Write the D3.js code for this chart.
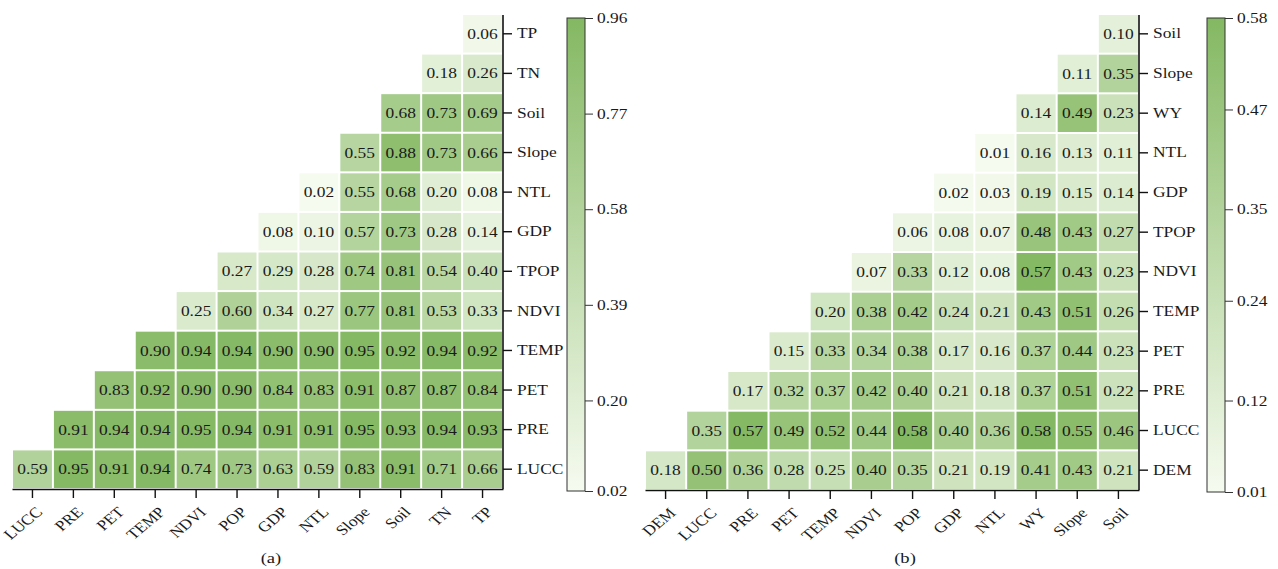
<!DOCTYPE html>
<html>
<head>
<meta charset="utf-8">
<script src="https://cdn.jsdelivr.net/npm/d3@7"></script>
<style>
  body { margin: 0; background: #fff; }
</style>
</head>
<body>
<div id="chart"></div>
<script>
// panel (a)
const colsA = ["LUCC", "PRE", "PET", "TEMP", "NDVI", "POP", "GDP", "NTL", "Slope", "Soil", "TN", "TP"];
const rowsA = ["LUCC", "PRE", "PET", "TEMP", "NDVI", "TPOP", "GDP", "NTL", "Slope", "Soil", "TN", "TP"]; // bottom -> top
// row i starts at column i
const valsA = [
  [0.59, 0.95, 0.91, 0.94, 0.74, 0.73, 0.63, 0.59, 0.83, 0.91, 0.71, 0.66],
  [0.91, 0.94, 0.94, 0.95, 0.94, 0.91, 0.91, 0.95, 0.93, 0.94, 0.93],
  [0.83, 0.92, 0.90, 0.90, 0.84, 0.83, 0.91, 0.87, 0.87, 0.84],
  [0.90, 0.94, 0.94, 0.90, 0.90, 0.95, 0.92, 0.94, 0.92],
  [0.25, 0.60, 0.34, 0.27, 0.77, 0.81, 0.53, 0.33],
  [0.27, 0.29, 0.28, 0.74, 0.81, 0.54, 0.40],
  [0.08, 0.10, 0.57, 0.73, 0.28, 0.14],
  [0.02, 0.55, 0.68, 0.20, 0.08],
  [0.55, 0.88, 0.73, 0.66],
  [0.68, 0.73, 0.69],
  [0.18, 0.26],
  [0.06]
];
const ticksA = [0.02, 0.20, 0.39, 0.58, 0.77, 0.96];

// panel (b)
const colsB = ["DEM", "LUCC", "PRE", "PET", "TEMP", "NDVI", "POP", "GDP", "NTL", "WY", "Slope", "Soil"];
const rowsB = ["DEM", "LUCC", "PRE", "PET", "TEMP", "NDVI", "TPOP", "GDP", "NTL", "WY", "Slope", "Soil"];
const valsB = [
  [0.18, 0.50, 0.36, 0.28, 0.25, 0.40, 0.35, 0.21, 0.19, 0.41, 0.43, 0.21],
  [0.35, 0.57, 0.49, 0.52, 0.44, 0.58, 0.40, 0.36, 0.58, 0.55, 0.46],
  [0.17, 0.32, 0.37, 0.42, 0.40, 0.21, 0.18, 0.37, 0.51, 0.22],
  [0.15, 0.33, 0.34, 0.38, 0.17, 0.16, 0.37, 0.44, 0.23],
  [0.20, 0.38, 0.42, 0.24, 0.21, 0.43, 0.51, 0.26],
  [0.07, 0.33, 0.12, 0.08, 0.57, 0.43, 0.23],
  [0.06, 0.08, 0.07, 0.48, 0.43, 0.27],
  [0.02, 0.03, 0.19, 0.15, 0.14],
  [0.01, 0.16, 0.13, 0.11],
  [0.14, 0.49, 0.23],
  [0.11, 0.35],
  [0.10]
];
const ticksB = [0.01, 0.12, 0.24, 0.35, 0.47, 0.58];

const width = 1278, height = 569;
const lowColor = "#f6fbf0", highColor = "#84b862";
const serif = "'Liberation Serif', 'Times New Roman', serif";
const fs = 14.5;      // font size
const sx = 1.2;       // the figure is stretched horizontally, so is its text
const ink = "#1a1a1a";

const svg = d3.select("#chart").append("svg")
  .attr("width", width)
  .attr("height", height)
  .attr("font-family", serif);

const drawPanel = function (o) {
  const g = svg.append("g");

  const x = d3.scaleBand().domain(o.cols).range([o.left, o.right]);
  const y = d3.scaleBand().domain(o.rows).range([o.bottom, o.top]);
  const [vmin, vmax] = d3.extent(o.ticks);
  const color = d3.scaleLinear().domain([vmin, vmax]).range([lowColor, highColor]).clamp(true);

  const cells = [];
  o.vals.forEach((row, i) => {
    row.forEach((v, k) => cells.push({ r: o.rows[i], c: o.cols[i + k], v: v }));
  });

  g.selectAll("rect.cell")
    .data(cells)
    .join("rect")
    .attr("class", "cell")
    .attr("x", d => x(d.c) + 1)
    .attr("y", d => y(d.r) + 1)
    .attr("width", x.bandwidth() - 2)
    .attr("height", y.bandwidth() - 2)
    .attr("fill", d => color(d.v));

  g.selectAll("text.val")
    .data(cells)
    .join("text")
    .attr("class", "val")
    .attr("transform", d => `translate(${x(d.c) + x.bandwidth() / 2},${y(d.r) + y.bandwidth() / 2}) scale(${sx},1)`)
    .attr("dy", "0.35em")
    .attr("text-anchor", "middle")
    .attr("font-size", fs)
    .attr("fill", ink)
    .text(d => d.v.toFixed(2));

  // x axis
  const xAxis = g.append("g")
    .attr("transform", `translate(0,${o.bottom})`)
    .call(d3.axisBottom(x).tickSize(9).tickSizeOuter(0))
    .attr("font-family", serif);
  xAxis.select(".domain").attr("stroke", "#111").attr("stroke-width", 1.6);
  xAxis.selectAll(".tick line").attr("stroke", "#111").attr("stroke-width", 1.4);
  xAxis.selectAll(".tick text")
    .attr("font-size", fs)
    .attr("fill", ink)
    .attr("text-anchor", "end")
    .attr("dy", null)
    .attr("y", null)
    .attr("transform", `translate(11,24) scale(${sx},1) rotate(-45)`);

  // y axis on right
  const yAxis = g.append("g")
    .attr("transform", `translate(${o.right},0)`)
    .call(d3.axisRight(y).tickSize(9).tickSizeOuter(0))
    .attr("font-family", serif);
  yAxis.select(".domain").attr("stroke", "#111").attr("stroke-width", 1.6)
    .attr("d", `M0,${o.top + 1}V${o.bottom}`);
  yAxis.selectAll(".tick line").attr("stroke", "#111").attr("stroke-width", 1.4);
  yAxis.selectAll(".tick text")
    .attr("font-size", fs)
    .attr("fill", ink)
    .attr("x", 0)
    .attr("transform", `translate(14,0) scale(${sx},1)`);

  // colour bar
  const cb = o.cb;
  const gradId = "grad" + o.id;
  const grad = svg.append("defs").append("linearGradient")
    .attr("id", gradId)
    .attr("x1", 0).attr("y1", 1).attr("x2", 0).attr("y2", 0);
  grad.append("stop").attr("offset", 0).attr("stop-color", lowColor);
  grad.append("stop").attr("offset", 1).attr("stop-color", highColor);

  const cy = d3.scaleLinear().domain([vmin, vmax]).range([cb.bottom, cb.top]);
  g.append("rect")
    .attr("x", cb.x)
    .attr("y", cb.top)
    .attr("width", cb.w)
    .attr("height", cb.bottom - cb.top)
    .attr("fill", `url(#${gradId})`)
    .attr("stroke", "#333")
    .attr("stroke-width", 1);
  const cAxis = g.append("g")
    .attr("transform", `translate(${cb.x + cb.w},0)`)
    .call(d3.axisRight(cy).tickValues(o.ticks).tickFormat(d3.format(".2f")).tickSize(8).tickSizeOuter(0))
    .attr("font-family", serif);
  cAxis.select(".domain").remove();
  cAxis.selectAll(".tick line").attr("stroke", "#333");
  cAxis.selectAll(".tick text")
    .attr("font-size", fs)
    .attr("fill", ink)
    .attr("x", 0)
    .attr("transform", `translate(12,0) scale(${sx},1)`);

  g.append("text")
    .attr("transform", `translate(${o.labelX},563) scale(${sx},1)`)
    .attr("text-anchor", "middle")
    .attr("font-size", fs + 1)
    .attr("fill", ink)
    .text(o.label);
};

drawPanel({
  id: "a", cols: colsA, rows: rowsA, vals: valsA, ticks: ticksA,
  left: 12, right: 503, top: 14, bottom: 489,
  cb: { x: 567, w: 18, top: 18, bottom: 491 },
  label: "(a)", labelX: 271
});

drawPanel({
  id: "b", cols: colsB, rows: rowsB, vals: valsB, ticks: ticksB,
  left: 645, right: 1139, top: 14, bottom: 490,
  cb: { x: 1207, w: 18, top: 18, bottom: 492 },
  label: "(b)", labelX: 905
});
</script>
</body>
</html>
